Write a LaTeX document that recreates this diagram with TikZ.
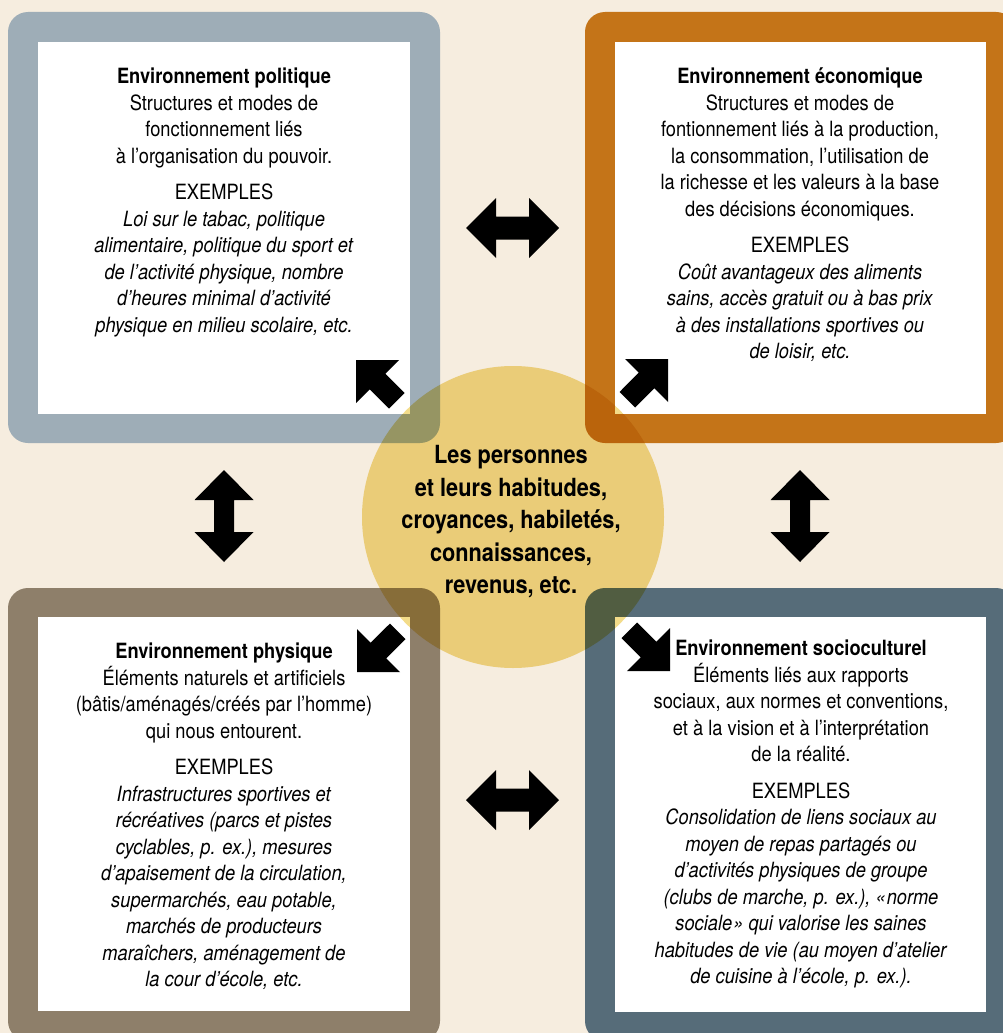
\documentclass[tikz,border=0pt]{standalone}
\usepackage{fontspec}
\setmainfont{TeX Gyre Heros}[FakeStretch=0.87]

\definecolor{cream}{HTML}{F6EDDF}
\definecolor{polcol}{HTML}{9EADB7}
\definecolor{ecocol}{HTML}{C47418}
\definecolor{phycol}{HTML}{8E7F6A}
\definecolor{soccol}{HTML}{566C79}
\definecolor{hubcol}{HTML}{F3DC8A}

\tikzset{
  framebox/.style={rectangle, rounded corners=20pt, draw=none, inner sep=0pt, outer sep=0pt},
  panelbox/.style={rectangle, fill=white, draw=none, inner sep=0pt, outer sep=0pt},
  boxtext/.style={anchor=north, align=center, inner sep=0pt,
    font=\fontsize{21}{26.5}\selectfont},
  hubtext/.style={circle, minimum size=302pt, inner sep=0pt, fill=hubcol, align=center,
    font=\bfseries\fontsize{25}{32.5}\selectfont},
  arrowfill/.style={fill=black},
  harrow/.pic={\fill[arrowfill] (-46.5,0) -- (-16.5,-30) -- (-16.5,-11.5) -- (16.5,-11.5)
      -- (16.5,-30) -- (46.5,0) -- (16.5,30) -- (16.5,11.5) -- (-16.5,11.5) -- (-16.5,30) -- cycle;},
  varrow/.pic={\fill[arrowfill] (0,-46) -- (29.5,-16) -- (10,-16) -- (10,16) -- (29.5,16)
      -- (0,46) -- (-29.5,16) -- (-10,16) -- (-10,-16) -- (-29.5,-16) -- cycle;},
  diagarrow/.pic={\fill[arrowfill] (0,0) -- (43,0) -- (29.3,13.7) -- (48.5,33) -- (33,48.5)
      -- (13.7,29.3) -- (0,43) -- cycle;},
}

\begin{document}
\begin{tikzpicture}[x=1pt, y=-1pt]
\useasboundingbox (0,0) rectangle (1003,1033);
\clip (0,0) rectangle (1003,1033);
\fill[cream] (0,0) rectangle (1003,1033);

% coloured frames with their white panels
\node[framebox, fill=polcol, minimum width=432pt, minimum height=431pt] (polframe) at (224,227.5) {};
\node[panelbox, minimum width=372pt, minimum height=372pt] (pol) at (224,228) {};
\node[framebox, fill=ecocol, minimum width=431pt, minimum height=431pt] (ecoframe) at (800.5,227.5) {};
\node[panelbox, minimum width=371pt, minimum height=372pt] (eco) at (800.5,228) {};
\node[framebox, fill=phycol, minimum width=432pt, minimum height=453pt] (phyframe) at (224,814.5) {};
\node[panelbox, minimum width=372pt, minimum height=394pt] (phy) at (224,814) {};
\node[framebox, fill=soccol, minimum width=431pt, minimum height=453pt] (socframe) at (800.5,814.5) {};
\node[panelbox, minimum width=371pt, minimum height=395pt] (soc) at (800.5,814.5) {};

% texts of the four environments
\node[boxtext] (poltext) at (224,68) {\textbf{Environnement politique}\\
Structures et modes de\\
fonctionnement liés\\
à l’organisation du pouvoir.\\[10pt]
EXEMPLES\\
\textit{Loi sur le tabac, politique}\\
\textit{alimentaire, politique du sport et}\\
\textit{de l’activité physique, nombre}\\
\textit{d’heures minimal d’activité}\\
\textit{physique en milieu scolaire, etc.}};

\node[boxtext] (ecotext) at (800,68) {\textbf{Environnement économique}\\
Structures et modes de\\
fontionnement liés à la production,\\
la consommation, l’utilisation de\\
la richesse et les valeurs à la base\\
des décisions économiques.\\[10pt]
EXEMPLES\\
\textit{Coût avantageux des aliments}\\
\textit{sains, accès gratuit ou à bas prix}\\
\textit{à des installations sportives ou}\\
\textit{de loisir, etc.}};

\node[boxtext] (phytext) at (224,643) {\textbf{Environnement physique}\\
Éléments naturels et artificiels\\
(bâtis/aménagés/créés par l’homme)\\
qui nous entourent.\\[10pt]
EXEMPLES\\
\textit{Infrastructures sportives et}\\
\textit{récréatives (parcs et pistes}\\
\textit{cyclables, p. ex.), mesures}\\
\textit{d’apaisement de la circulation,}\\
\textit{supermarchés, eau potable,}\\
\textit{marchés de producteurs}\\
\textit{maraîchers, aménagement de}\\
\textit{la cour d’école, etc.}};

\node[boxtext] (soctext) at (801,640) {\textbf{Environnement socioculturel}\\
Éléments liés aux rapports\\
sociaux, aux normes et conventions,\\
et à la vision et à l’interprétation\\
de la réalité.\\[10pt]
EXEMPLES\\
\textit{Consolidation de liens sociaux au}\\
\textit{moyen de repas partagés ou}\\
\textit{d’activités physiques de groupe}\\
\textit{(clubs de marche, p. ex.), «\kern1pt norme}\\
\textit{sociale\kern1pt» qui valorise les saines}\\
\textit{habitudes de vie (au moyen d’atelier}\\
\textit{de cuisine à l’école, p. ex.).}};

% double arrows between neighbouring environments
\pic at (512.5,228) {harrow};
\pic at (512.5,800) {harrow};
\pic at (224,516) {varrow};
\pic at (800,516) {varrow};

% arrows from the centre towards each environment
\pic at (356,360) {diagarrow};
\pic[xscale=-1] at (668,359) {diagarrow};
\pic[yscale=-1] at (357,672) {diagarrow};
\pic[xscale=-1, yscale=-1] at (670,671) {diagarrow};

% central disc, multiplied over the frames
\begin{scope}[blend mode=multiply]
\node[hubtext] (hub) at (513,517) {};
\end{scope}
\node[align=center, inner sep=0pt, font=\bfseries\fontsize{25}{32.5}\selectfont] (hubtxt) at (511,522) {Les personnes\\
et leurs habitudes,\\
croyances, habiletés,\\
connaissances,\\
revenus, etc.};
\end{tikzpicture}
\end{document}
